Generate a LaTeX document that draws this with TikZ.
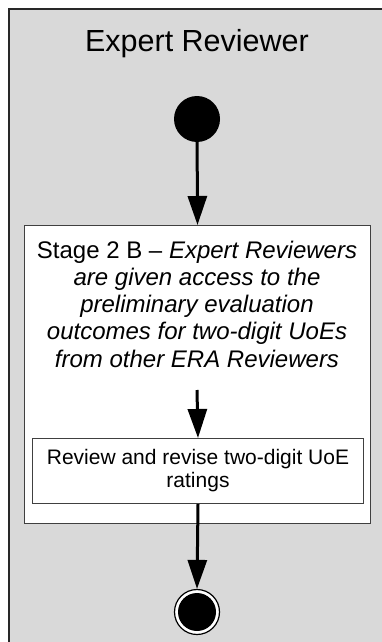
\documentclass[tikz,border=0pt]{standalone}
\usepackage{fontspec}
\setmainfont{Liberation Sans}
\usetikzlibrary{arrows.meta}
\definecolor{lanegray}{RGB}{217,217,217}
\definecolor{laneedge}{RGB}{40,40,40}
\definecolor{boxedge}{RGB}{64,64,64}
\tikzset{
  flow/.style={line width=3pt, -{Triangle[length=29pt, width=19pt]}},
  startdot/.style={circle, fill=black, minimum size=46pt, inner sep=0pt},
  enddot/.style={circle, draw=black, line width=1.2pt, fill=white, minimum size=45pt, inner sep=0pt,
    path picture={\fill[black] (path picture bounding box.center) circle (19);}},
  actbox/.style={draw=boxedge, line width=1pt, fill=white, inner sep=0pt},
}
\begin{document}
\begin{tikzpicture}[x=1pt, y=-1pt]
\useasboundingbox (0,0) rectangle (382,642);
% swimlane background, running off the right and bottom edges
\begin{scope}
  \clip (0,0) rectangle (382,642);
  \draw[fill=lanegray, draw=laneedge, line width=1.5pt] (9,9) rectangle (400,660);
\end{scope}
\node[anchor=base, font=\fontsize{30.5}{33}\selectfont] (title) at (197,52) {Expert Reviewer};
\node[startdot] (start) at (197,119) {};
% stage frame
\node[actbox, anchor=north west, minimum width=346pt, minimum height=298pt] (stage) at (24,225) {};
\node[anchor=base, align=center, font=\fontsize{24}{27.1}\selectfont] (stagetext) at (197,367)
  {Stage 2 B -- \textit{Expert Reviewers}\\\textit{are given access to the}\\\textit{preliminary evaluation}\\\textit{outcomes for two-digit UoEs}\\\textit{from other ERA Reviewers}};
\coordinate (gap) at (197,390);
\node[actbox, anchor=north west, minimum width=331pt, minimum height=65pt] (review) at (32,438) {};
\node[align=center, font=\fontsize{21}{23}\selectfont] (reviewtext) at (review.center)
  {Review and revise two-digit UoE\\ratings};
\node[enddot] (end) at (197,612) {};
\draw[flow] (start) -- (stage.north);
\draw[flow] (gap) -- (review.north);
\draw[flow] (review.south) -- (end.north);
\end{tikzpicture}
\end{document}
